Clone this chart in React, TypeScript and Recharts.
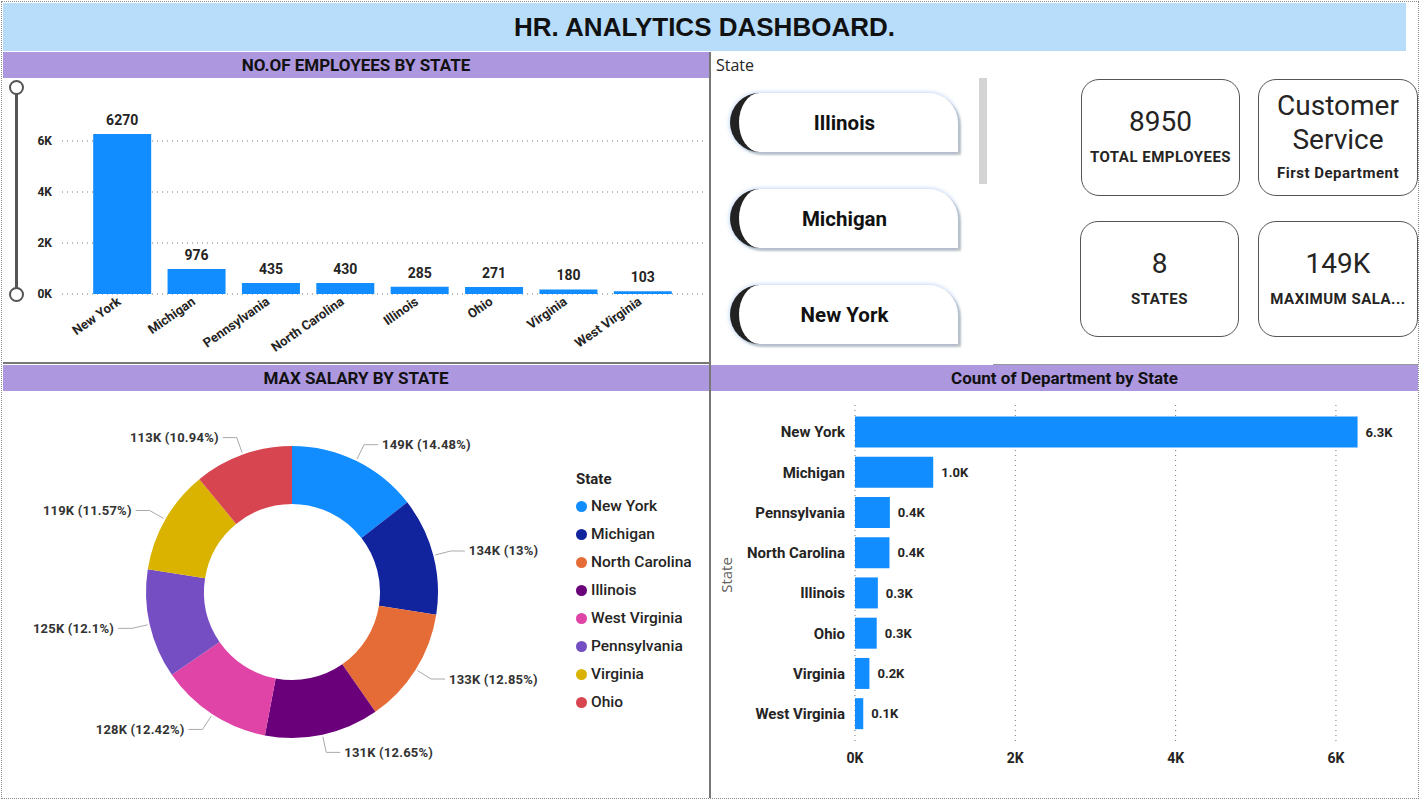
import React from "react";
import { BarChart, Bar, XAxis, YAxis, CartesianGrid, LabelList, PieChart, Pie, Cell, Legend } from "recharts";

// employees / department counts per state (same order in both bar charts)
const states = ["New York", "Michigan", "Pennsylvania", "North Carolina", "Illinois", "Ohio", "Virginia", "West Virginia"];
const employees = [6270, 976, 435, 430, 285, 271, 180, 103];
const countTicks = [0, 2000, 4000, 6000];

// max salary donut
const salaryStates = ["New York", "Michigan", "North Carolina", "Illinois", "West Virginia", "Pennsylvania", "Virginia", "Ohio"];
const maxSalaryK = [149, 134, 133, 131, 128, 125, 119, 113];
const salaryShare = [14.48, 13, 12.85, 12.65, 12.42, 12.1, 11.57, 10.94];
const salaryColors = ["#118dff", "#12239e", "#e66c37", "#6b007b", "#e044a7", "#744ec2", "#d9b300", "#d64550"];

// slicer + cards
const slicerItems = ["Illinois", "Michigan", "New York"];
const kpiValues = [["8950"], ["Customer", "Service"], ["8"], ["149K"]];
const kpiLabels = ["TOTAL EMPLOYEES", "First Department", "STATES", "MAXIMUM SALA..."];

const DIN = "Roboto, 'Noto Sans', sans-serif";
const SEGOE = "'Open Sans', 'Noto Sans', sans-serif";
const TXT = "#252423";
const PURPLE = "#ad97de";
const BLUE = "#118dff";

const countData = states.map((s, i) => ({ state: s, count: employees[i] }));
const salaryData = salaryStates.map((s, i) => ({ state: s, share: salaryShare[i], salary: maxSalaryK[i] }));

const kFmt = (v: number) => `${v / 1000}K`;

const AngledTick = ({ x, y, payload }: any) => (
  <g transform={`translate(${x - 5},${y - 5})`}>
    <text x={0} y={0} dy={8} textAnchor="end" transform="rotate(-35)" fontSize={13} fontWeight={700} fill={TXT} fontFamily={DIN}>
      {payload.value}
    </text>
  </g>
);

const RAD = Math.PI / 180;
const DonutLabel = ({ cx, cy, midAngle, outerRadius, index }: any) => {
  const cos = Math.cos(-midAngle * RAD);
  const sin = Math.sin(-midAngle * RAD);
  const x1 = cx + (outerRadius + 2) * cos;
  const y1 = cy + (outerRadius + 2) * sin;
  const x2 = cx + (outerRadius + 18) * cos;
  const y2 = cy + (outerRadius + 18) * sin;
  const right = cos >= 0;
  const x3 = x2 + (right ? 14 : -14);
  return (
    <g>
      <polyline points={`${x1},${y1} ${x2},${y2} ${x3},${y2}`} fill="none" stroke="#aaa" strokeWidth={1} />
      <text x={x3 + (right ? 4 : -4)} y={y2} textAnchor={right ? "start" : "end"} dominantBaseline="central" fontSize={13} letterSpacing={0.2} fontWeight={700} fill="#333" fontFamily={DIN}>
        {`${maxSalaryK[index]}K (${salaryShare[index]}%)`}
      </text>
    </g>
  );
};

// legend keeps the data order (recharts sorts its payload by name)
const DonutLegend = () => (
  <div style={{ fontFamily: DIN, color: TXT }}>
    <div style={{ fontSize: 15, fontWeight: 700, height: 22 }}>State</div>
    {salaryStates.map((s, i) => (
      <div key={s} style={{ display: "flex", alignItems: "center", height: 28, fontSize: 15.5, fontWeight: 500 }}>
        <span style={{ width: 11, height: 11, borderRadius: 6, background: salaryColors[i], marginRight: 4 }} />
        {s}
      </div>
    ))}
  </div>
);

const Header = ({ left, top, width, text }: { left: number; top: number; width: number; text: string }) => (
  <div style={{ position: "absolute", left, top, width, height: 26, background: PURPLE, display: "flex", alignItems: "center", justifyContent: "center", fontFamily: DIN, fontWeight: 700, fontSize: 17, color: "#111" }}>
    {text}
  </div>
);

const cardBoxes = [
  { left: 1081, top: 79, width: 159, height: 117 },
  { left: 1258, top: 79, width: 160, height: 117 },
  { left: 1080, top: 221, width: 159, height: 116 },
  { left: 1258, top: 221, width: 160, height: 116 },
];

export default function App() {
  return (
    <div style={{ position: "absolute", left: 0, top: 0, width: 1420, height: 804, background: "#fff", overflow: "hidden" }}>
      {/* page outline */}
      <div style={{ position: "absolute", left: 1, top: 1, width: 1416, height: 796, border: "1px dotted #888" }} />

      {/* title */}
      <div style={{ position: "absolute", left: 3, top: 3, width: 1403, height: 48, background: "#b8ddfb", display: "flex", alignItems: "center", justifyContent: "center", fontFamily: "'Liberation Sans', Arial, sans-serif", fontWeight: 700, fontSize: 26, color: "#111" }}>
        HR. ANALYTICS DASHBOARD.
      </div>

      {/* panel borders */}
      <div style={{ position: "absolute", left: 709, top: 52, width: 2, height: 746, background: "#777" }} />
      <div style={{ position: "absolute", left: 3, top: 362, width: 707, height: 2, background: "#777" }} />
      <div style={{ position: "absolute", left: 993, top: 364, width: 425, height: 1, background: "#999" }} />

      {/* employees by state */}
      <Header left={3} top={52} width={706} text="NO.OF EMPLOYEES BY STATE" />
      <div style={{ position: "absolute", left: 15, top: 87, width: 3, height: 207, background: "#555" }} />
      <div style={{ position: "absolute", left: 9, top: 80, width: 11, height: 11, borderRadius: 8, border: "2px solid #555", background: "#fff" }} />
      <div style={{ position: "absolute", left: 9, top: 287, width: 11, height: 11, borderRadius: 8, border: "2px solid #555", background: "#fff" }} />
      <div style={{ position: "absolute", left: 3, top: 79 }}>
        <BarChart width={706} height={283} data={countData} margin={{ top: 36.5, right: 4, bottom: 8, left: 0 }} barCategoryGap="11%">
          <CartesianGrid horizontal vertical={false} horizontalValues={countTicks} stroke="#777" strokeDasharray="1 4" />
          <XAxis dataKey="state" interval={0} tick={<AngledTick />} axisLine={false} tickLine={false} height={60} padding={{ left: 23, right: 25 }} />
          <YAxis domain={[0, 7000]} ticks={countTicks} tickFormatter={kFmt} width={59} tickMargin={4} axisLine={false} tickLine={false} tick={{ fontSize: 12, fontWeight: 700, fill: TXT, fontFamily: DIN }} />
          <Bar dataKey="count" fill={BLUE} isAnimationActive={false}>
            <LabelList dataKey="count" position="top" offset={9} style={{ fontSize: 14, fontWeight: 700, fill: TXT, fontFamily: DIN }} />
          </Bar>
        </BarChart>
      </div>

      {/* state slicer */}
      <div style={{ position: "absolute", left: 716, top: 54, fontFamily: SEGOE, fontSize: 16, color: TXT }}>State</div>
      <div style={{ position: "absolute", left: 979, top: 78, width: 8, height: 106, background: "#d4d4d4" }} />
      {slicerItems.map((s, i) => (
        <div key={s} style={{ position: "absolute", left: 730, top: 93 + i * 96, width: 219, height: 59, background: "#fff", borderLeft: "9px solid #222", borderRadius: "30px 30px 0 30px", boxShadow: "0 0 5px rgba(110,160,230,0.55), 3px 3px 2px rgba(0,0,0,0.22)", display: "flex", alignItems: "center", justifyContent: "center", boxSizing: "content-box", paddingRight: 0, fontFamily: DIN, fontWeight: 700, fontSize: 20.5, color: "#111" }}>
          <span style={{ marginRight: 8 }}>{s}</span>
        </div>
      ))}

      {/* cards */}
      {cardBoxes.map((b, i) => (
        <div key={i} style={{ position: "absolute", ...b, boxSizing: "border-box", border: "1px solid #555", borderRadius: 18, fontFamily: DIN, color: TXT, textAlign: "center" }}>
          {kpiValues[i].map((v, j) => (
            <div key={j} style={{ position: "absolute", left: 0, right: 0, top: (kpiValues[i].length > 1 ? 8 : 24) + j * 34, fontSize: 28, lineHeight: "36px", fontWeight: 400 }}>{v}</div>
          ))}
          <div style={{ position: "absolute", left: 0, right: 0, top: kpiValues[i].length > 1 ? 83 : 67, fontSize: 15, letterSpacing: 0.5, lineHeight: "20px", fontWeight: 700, whiteSpace: "nowrap" }}>{kpiLabels[i]}</div>
        </div>
      ))}

      {/* max salary donut */}
      <Header left={3} top={365} width={706} text="MAX SALARY BY STATE" />
      <div style={{ position: "absolute", left: 3, top: 391 }}>
        <PieChart width={706} height={407} margin={{ top: 0, right: 0, bottom: 0, left: 0 }}>
          <Pie data={salaryData} dataKey="share" nameKey="state" cx={289} cy={201} innerRadius={88} outerRadius={146} startAngle={90} endAngle={-270} stroke="none" label={DonutLabel} labelLine={false} isAnimationActive={false}>
            {salaryData.map((d, i) => (
              <Cell key={d.state} fill={salaryColors[i]} />
            ))}
          </Pie>
          <Legend content={<DonutLegend />} wrapperStyle={{ position: "absolute", left: 573, top: 79, width: 140 }} />
        </PieChart>
      </div>

      {/* count of department */}
      <Header left={711} top={365} width={707} text="Count of Department by State" />
      <div style={{ position: "absolute", left: 711, top: 391 }}>
        <BarChart width={707} height={407} data={countData} layout="vertical" margin={{ top: 14, right: 42, bottom: 8, left: 0 }} barCategoryGap="11%">
          <CartesianGrid vertical horizontal={false} verticalValues={countTicks} stroke="#777" strokeDasharray="1 4" />
          <XAxis type="number" domain={[0, 6500]} ticks={countTicks} tickFormatter={kFmt} axisLine={false} tickLine={false} height={45} tick={{ fontSize: 14, fontWeight: 700, fill: TXT, fontFamily: DIN }} />
          <YAxis type="category" dataKey="state" width={144} tickMargin={4} axisLine={false} tickLine={false} padding={{ top: 7, bottom: 11 }} tick={{ fontSize: 15, fontWeight: 700, fill: TXT, fontFamily: DIN }}
            label={{ value: "State", angle: -90, position: "insideLeft", offset: 16, style: { fontSize: 15, fill: "#605e5c", fontFamily: SEGOE, textAnchor: "middle" } }} />
          <Bar dataKey="count" fill={BLUE} isAnimationActive={false}>
            <LabelList dataKey="count" position="right" offset={8} formatter={(v: any) => `${(Number(v) / 1000).toFixed(1)}K`} style={{ fontSize: 13, fontWeight: 700, fill: TXT, fontFamily: DIN }} />
          </Bar>
        </BarChart>
      </div>
    </div>
  );
}
